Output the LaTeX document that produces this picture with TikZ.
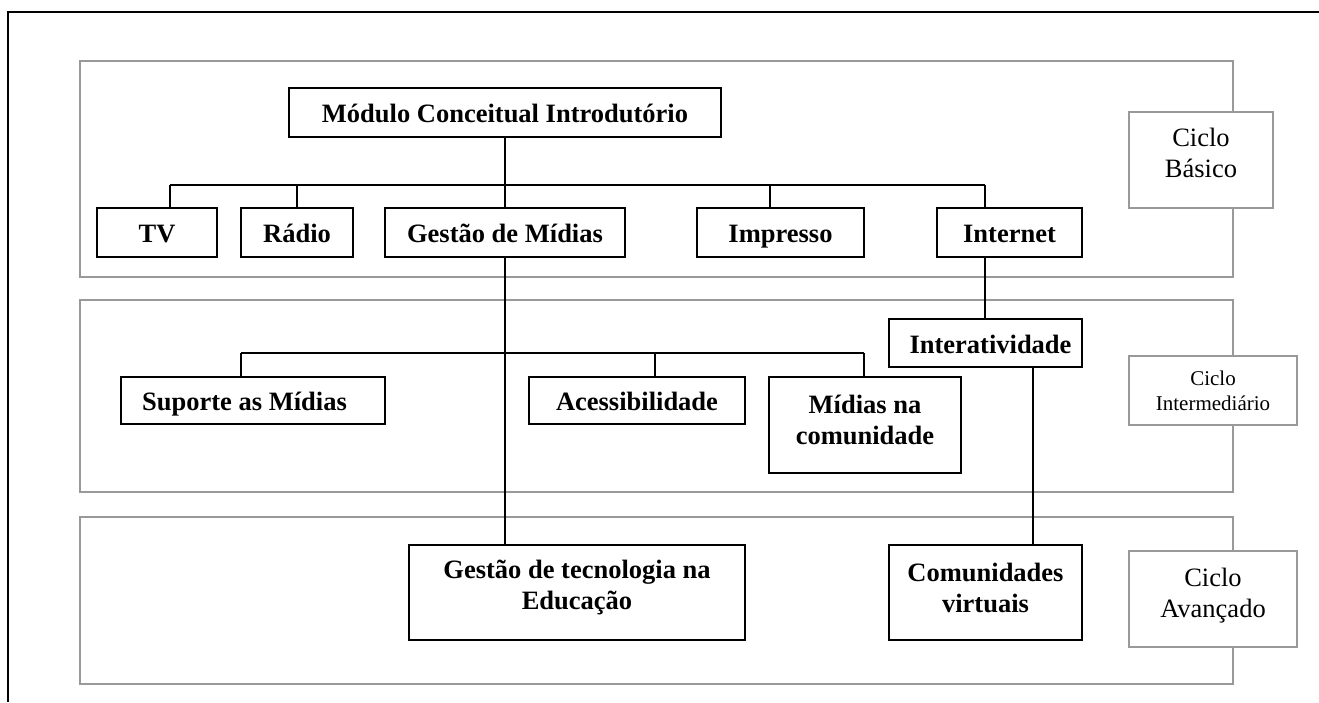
\documentclass[tikz,border=0pt]{standalone}
\usepackage{fontspec}
\setmainfont{Liberation Serif}
\definecolor{gline}{RGB}{153,153,153}
\begin{document}
\begin{tikzpicture}[x=1pt,y=-1pt,
  box/.style={draw=black, line width=2pt, fill=white, inner sep=0pt, align=center,
    font=\bfseries\fontsize{26.5}{31}\selectfont},
  onebox/.style={box, text height=22pt, text depth=2pt},
  cyc/.style={draw=gline, line width=1.7pt, fill=white, inner sep=0pt, align=center,
    font=\fontsize{26.5}{31}\selectfont},
  cycsmall/.style={cyc, font=\fontsize{21}{25}\selectfont},
  band/.style={draw=gline, line width=1.6pt},
  conn/.style={draw=black, line width=2pt},
  frame/.style={draw=black, line width=2pt}]
\useasboundingbox (0,0) rectangle (1319,702);
% outer frame
\draw[frame] (1319,12) -- (8,12) -- (8,702);
% cycle bands
\draw[band] (80,61) rectangle (1233,277);
\draw[band] (80,300) rectangle (1233,492);
\draw[band] (80,517) rectangle (1233,684);
% cycle labels
\node[cyc, minimum width=144, minimum height=96, text depth=14pt] (cb) at (1201,160) {Ciclo\\Básico};
\node[cycsmall, minimum width=168, minimum height=69] (ci) at (1213,390.5) {Ciclo\\Intermediário};
\node[cyc, minimum width=168, minimum height=96, text depth=13pt] (ca) at (1213,599) {Ciclo\\Avançado};
% junction coordinates
\coordinate (j1) at (170,185);
\coordinate (j2) at (297,185);
\coordinate (j3) at (505,185);
\coordinate (j4) at (770,185);
\coordinate (j5) at (985,185);
\coordinate (k1) at (241,353);
\coordinate (k2) at (655,353);
\coordinate (k3) at (864,353);
\coordinate (k4) at (1033,367);
% nodes
\node[onebox, minimum width=432, minimum height=49] (mod) at (505,112.5) {Módulo Conceitual Introdutório};
\node[onebox, minimum width=120, minimum height=49] (tv) at (157,232.5) {TV};
\node[onebox, minimum width=112, minimum height=49] (radio) at (297,232.5) {Rádio};
\node[onebox, minimum width=240, minimum height=49] (gm) at (505,232.5) {Gestão de Mídias};
\node[onebox, minimum width=167, minimum height=49] (imp) at (780.5,232.5) {Impresso};
\node[onebox, minimum width=145, minimum height=49] (int) at (1009.5,232.5) {Internet};
\node[onebox, minimum width=264, minimum height=47] (sup) at (253,400.5) {Suporte as Mídias\hspace*{17pt}};
\node[onebox, minimum width=216, minimum height=47] (ace) at (637,400.5) {Acessibilidade};
\node[box, minimum width=192, minimum height=96, text depth=10pt] (mnc) at (865,425) {Mídias na\\comunidade};
\node[onebox, minimum width=193, minimum height=48] (inter) at (985.5,343) {\hspace*{10pt}Interatividade};
\node[box, minimum width=336, minimum height=95, text depth=15pt] (gte) at (577,592.5) {Gestão de tecnologia na\\Educação};
\node[box, minimum width=193, minimum height=95, text depth=10pt] (cv) at (985.5,592.5) {Comunidades\\virtuais};
% connectors
\draw[conn] (mod.south) -- (j3);
\draw[conn] (j1) -- (j5);
\draw[conn] (j1) -- (j1 |- tv.north);
\draw[conn] (j2) -- (radio.north);
\draw[conn] (j3) -- (gm.north);
\draw[conn] (j4) -- (j4 |- imp.north);
\draw[conn] (j5) -- (j5 |- int.north);
\draw[conn] (gm.south) -- (gm.south |- gte.north);
\draw[conn] (j5 |- int.south) -- (j5 |- inter.north);
\draw[conn] (k1) -- (k3);
\draw[conn] (k1) -- (k1 |- sup.north);
\draw[conn] (k2) -- (k2 |- ace.north);
\draw[conn] (k3) -- (k3 |- mnc.north);
\draw[conn] (k4 |- inter.south) -- (k4 |- cv.north);
\end{tikzpicture}
\end{document}
